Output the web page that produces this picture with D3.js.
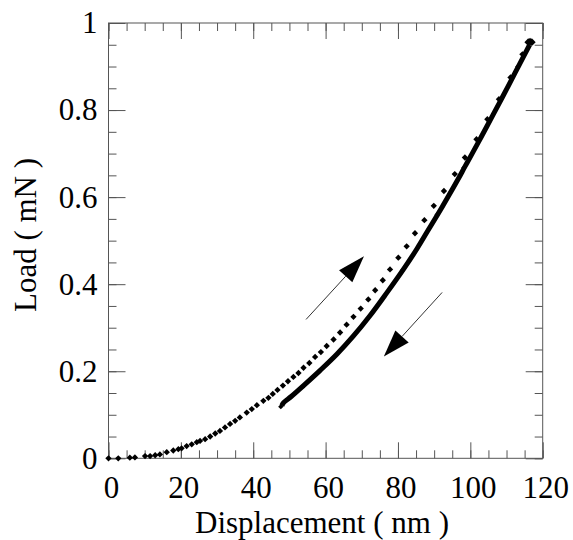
<!DOCTYPE html>
<html lang="en">
<head>
<meta charset="utf-8">
<title>Load - Displacement</title>
<script src="https://d3js.org/d3.v7.min.js"></script>
<style>
  body { margin: 0; background: #fff; }
  svg text { font-family: "Liberation Serif", "Times New Roman", serif; fill: #000; }
</style>
</head>
<body>
<script>
// loading branch (dotted)
const loadX = [0, 2.7, 5.9, 7.3, 10.1, 11.5, 12.9, 14.2, 16.1, 17.9, 19.3, 20.2, 21.6, 23.0, 24.4, 25.3, 26.7, 28.1, 29.5, 30.8, 32.2, 33.6, 35.0, 36.3, 38.2, 39.6, 41.0, 42.8, 44.2, 45.4, 46.7, 48.2, 49.6, 51.1, 52.5, 53.9, 55.5, 57.1, 58.7, 60.3, 62.2, 64.0, 65.8, 67.7, 69.7, 71.8, 73.7, 75.8, 77.8, 80.1, 82.4, 84.7, 87.3, 89.9, 92.7, 95.7, 98.5, 101.7, 104.7, 107.9, 111.1, 114.4, 116.0, 116.5, 117.0];
const loadY = [0, 0, 0.0015, 0.002, 0.005, 0.005, 0.007, 0.009, 0.014, 0.018, 0.021, 0.023, 0.028, 0.032, 0.037, 0.040, 0.044, 0.050, 0.057, 0.063, 0.071, 0.079, 0.086, 0.094, 0.105, 0.113, 0.122, 0.132, 0.139, 0.148, 0.157, 0.167, 0.177, 0.187, 0.196, 0.208, 0.219, 0.233, 0.244, 0.258, 0.273, 0.289, 0.307, 0.325, 0.344, 0.365, 0.386, 0.409, 0.434, 0.461, 0.487, 0.517, 0.547, 0.580, 0.614, 0.653, 0.691, 0.733, 0.779, 0.825, 0.875, 0.928, 0.956, 0.957, 0.956];
// unloading branch (thick line)
const unloadX = [116.4, 113.4, 110.4, 108.0, 105.5, 103.0, 100.5, 98.5, 96.6, 94.0, 91.1, 88.2, 85.3, 81.5, 76.9, 72.3, 67.7, 63.1, 58.5, 53.9, 50.5, 48.4, 47.9];
const unloadY = [0.950, 0.902, 0.854, 0.816, 0.777, 0.738, 0.700, 0.670, 0.641, 0.603, 0.562, 0.522, 0.482, 0.434, 0.380, 0.328, 0.281, 0.239, 0.202, 0.167, 0.142, 0.128, 0.121];

const xTicks = [0, 20, 40, 60, 80, 100, 120];
const yTicks = [0, 0.2, 0.4, 0.6, 0.8, 1];
const xMinor = d3.range(0, 121, 5);
const yMinor = d3.range(0, 21).map(i => i * 0.05);

// arrows: [tailX, tailY, tipX, tipY] in data units
const arrows = [[54.6, 0.319, 70.6, 0.464], [92.2, 0.381, 76.1, 0.234]];

const w = 573, h = 540;
const mLeft = 108.5, mRight = 542.7, mTop = 23, mBottom = 458.3;
const fontSize = '31px';

const x = d3.scaleLinear().domain([0, 120]).range([mLeft, mRight]);
const y = d3.scaleLinear().domain([0, 1]).range([mBottom, mTop]);

const svg = d3.select('body').append('svg')
  .attr('width', w)
  .attr('height', h);

function styleAxis(g) {
  g.select('.domain').remove();
  g.selectAll('line').attr('stroke', '#555').attr('stroke-width', 1);
  g.selectAll('text').style('font-size', fontSize).attr('fill', '#000');
}

// minor ticks on all sides
svg.append('g').attr('transform', `translate(0,${mBottom})`)
  .call(d3.axisBottom(x).tickValues(xMinor).tickSize(-8).tickFormat(''))
  .call(styleAxis);
svg.append('g').attr('transform', `translate(0,${mTop})`)
  .call(d3.axisTop(x).tickValues(xMinor).tickSize(-8).tickFormat(''))
  .call(styleAxis);
svg.append('g').attr('transform', `translate(${mLeft},0)`)
  .call(d3.axisLeft(y).tickValues(yMinor).tickSize(-8).tickFormat(''))
  .call(styleAxis);
svg.append('g').attr('transform', `translate(${mRight},0)`)
  .call(d3.axisRight(y).tickValues(yMinor).tickSize(-8).tickFormat(''))
  .call(styleAxis);

// major ticks
svg.append('g').attr('id', 'x-axis').attr('transform', `translate(0,${mBottom})`)
  .call(d3.axisBottom(x).tickValues(xTicks).tickSize(-16).tickPadding(18).tickFormat(d => String(d)))
  .call(styleAxis)
  .selectAll('text').attr('dx', 2.5);
svg.append('g').attr('transform', `translate(0,${mTop})`)
  .call(d3.axisTop(x).tickValues(xTicks).tickSize(-16).tickFormat(''))
  .call(styleAxis);
svg.append('g').attr('id', 'y-axis').attr('transform', `translate(${mLeft},0)`)
  .call(d3.axisLeft(y).tickValues(yTicks).tickSize(-17).tickPadding(11).tickFormat(d => String(d)))
  .call(styleAxis);
svg.append('g').attr('transform', `translate(${mRight},0)`)
  .call(d3.axisRight(y).tickValues(yTicks).tickSize(-17).tickFormat(''))
  .call(styleAxis);

// frame
svg.append('rect')
  .attr('x', mLeft).attr('y', mTop)
  .attr('width', mRight - mLeft).attr('height', mBottom - mTop)
  .attr('fill', 'none').attr('stroke', '#555').attr('stroke-width', 1);

// unloading line
const unload = unloadX.map((d, i) => [d, unloadY[i]]);
svg.append('path')
  .datum(unload)
  .attr('d', d3.line().x(d => x(d[0])).y(d => y(d[1])).curve(d3.curveCatmullRom))
  .attr('fill', 'none')
  .attr('stroke', '#000')
  .attr('stroke-width', 5)
  .attr('stroke-linejoin', 'round');
svg.selectAll('.umark')
  .data(unload.filter((d, i) => i % 3 === 1))
  .enter().append('path')
  .attr('class', 'umark')
  .attr('d', d3.symbol(d3.symbolSquare, 14))
  .attr('transform', d => `translate(${x(d[0]) - 1},${y(d[1]) + 1}) rotate(45)`)
  .attr('fill', '#000');

// loading points (the last few sit on top of each other at peak load)
const load = loadX.map((d, i) => [d, loadY[i]]);
svg.selectAll('.lmark')
  .data(load)
  .enter().append('path')
  .attr('class', 'lmark')
  .attr('d', (d, i) => d3.symbol(d3.symbolSquare, i >= load.length - 3 ? 30 : 20)())
  .attr('transform', d => `translate(${x(d[0])},${y(d[1])}) rotate(45)`)
  .attr('fill', '#000');

// arrows
arrows.forEach(a => {
  const x0 = x(a[0]), y0 = y(a[1]), x1 = x(a[2]), y1 = y(a[3]);
  const ang = Math.atan2(y1 - y0, x1 - x0);
  const len = 27, half = 9;
  const bx = x1 - len * Math.cos(ang), by = y1 - len * Math.sin(ang);
  const px = -Math.sin(ang) * half, py = Math.cos(ang) * half;
  svg.append('line')
    .attr('x1', x0).attr('y1', y0).attr('x2', bx).attr('y2', by)
    .attr('stroke', '#333').attr('stroke-width', 1);
  svg.append('path')
    .attr('d', `M${x1},${y1}L${bx + px},${by + py}L${bx - px},${by - py}Z`)
    .attr('fill', '#000');
});

// axis titles
svg.append('text')
  .attr('x', 322).attr('y', 533)
  .attr('text-anchor', 'middle')
  .style('font-size', fontSize)
  .text('Displacement ( nm )');
svg.append('text')
  .attr('transform', 'translate(36,235) rotate(-90)')
  .attr('text-anchor', 'middle')
  .style('font-size', fontSize)
  .text('Load ( mN )');
</script>
</body>
</html>
